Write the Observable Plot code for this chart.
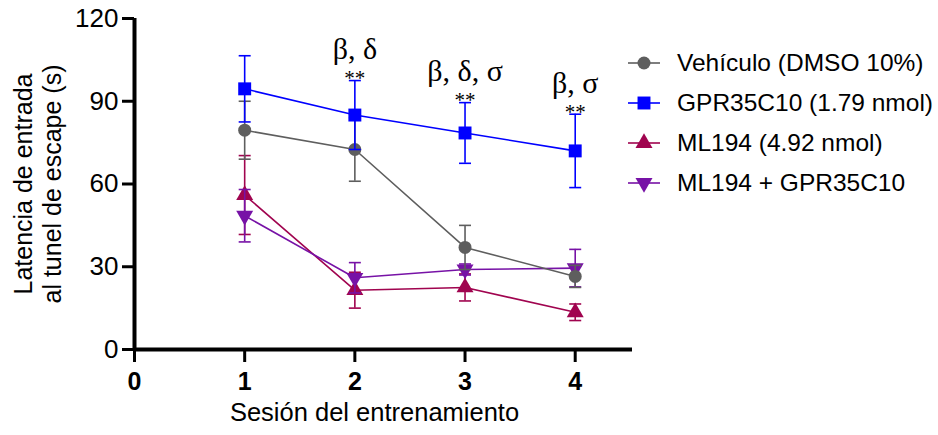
<!DOCTYPE html>
<html>
<head>
<meta charset="utf-8">
<script src="https://cdn.jsdelivr.net/npm/d3@7"></script>
<script src="https://cdn.jsdelivr.net/npm/@observablehq/plot@0.6"></script>
<style>
  html, body { margin: 0; padding: 0; background: #ffffff; }
  #wrap { position: relative; width: 938px; height: 435px; overflow: hidden; }
  #chart { position: absolute; left: 0; top: 0; }
  #legend { position: absolute; left: 626px; top: 43px; font-family: "Liberation Sans", Arial, sans-serif; font-size: 24.5px; color: #000; white-space: nowrap; }
  .row { display: flex; align-items: center; height: 40px; }
  .row svg { margin-right: 15px; }
</style>
</head>
<body>
<div id="wrap"><div id="chart"></div><div id="legend"></div></div>
<script>
// ---- data ----
const sessions = [1, 2, 3, 4];
const seriesNames = ["Vehículo (DMSO 10%)", "GPR35C10 (1.79 nmol)", "ML194 (4.92 nmol)", "ML194 + GPR35C10"];
const vehMean = [79.5, 72.5, 37, 26.5];
const vehSem = [10.5, 11.5, 8, 4];
const gprMean = [94.5, 85, 78.5, 72];
const gprSem = [12, 12.5, 11, 13.3];
const mlMean = [56, 21.5, 22.5, 13.5];
const mlSem = [14.3, 6.5, 4.9, 3];
const comboMean = [48.5, 26, 29, 29.5];
const comboSem = [9.5, 5.5, 2, 6.8];
const xTicks = [0, 1, 2, 3, 4];
const yTicks = [0, 30, 60, 90, 120];
const annSessions = [2, 3, 4];
const annGreek = ["β, δ", "β, δ, σ", "β, σ"];
const annStars = ["**", "**", "**"];

// ---- styles ----
const styles = [
  {color: "#5e5e5e", symbol: "circle", rotate: 0, r: 6.5},
  {color: "#0000ff", symbol: "square", rotate: 0, r: 7.3},
  {color: "#a0044f", symbol: "triangle", rotate: 0, r: 6.3},
  {color: "#7712a6", symbol: "triangle", rotate: 180, r: 6.3}
];
const means = [vehMean, gprMean, mlMean, comboMean];
const sems = [vehSem, gprSem, mlSem, comboSem];

const capSymbol = {
  draw(ctx, size) {
    const w = Math.sqrt(size / Math.PI);
    ctx.moveTo(-w, 0);
    ctx.lineTo(w, 0);
  }
};

const seriesData = seriesNames.map((name, i) =>
  sessions.map((s, j) => ({session: s, mean: means[i][j], sem: sems[i][j], name}))
);

const drawOrder = [2, 3, 0, 1];
const marks = [];
for (const i of drawOrder) {
  const d = seriesData[i], st = styles[i];
  marks.push(
    Plot.line(d, {x: "session", y: "mean", stroke: st.color, strokeWidth: 1.6}),
    Plot.ruleX(d, {x: "session", y1: v => v.mean - v.sem, y2: v => v.mean + v.sem, stroke: st.color, strokeWidth: 1.6}),
    Plot.dot(d, {x: "session", y: v => v.mean + v.sem, symbol: capSymbol, r: 6, fill: "none", stroke: st.color, strokeWidth: 1.6}),
    Plot.dot(d, {x: "session", y: v => v.mean - v.sem, symbol: capSymbol, r: 6, fill: "none", stroke: st.color, strokeWidth: 1.6}),
    Plot.dot(d, {x: "session", y: "mean", symbol: st.symbol, rotate: st.rotate, r: st.r, fill: st.color, stroke: "none"})
  );
}

const annData = annSessions.map((s, k) => ({
  session: s,
  top: gprMean[sessions.indexOf(s)] + gprSem[sessions.indexOf(s)],
  greek: annGreek[k],
  stars: annStars[k]
}));

const serif = "'Liberation Serif', 'Times New Roman', serif";

const plot = Plot.plot({
  width: 640,
  height: 435,
  marginLeft: 134,
  marginRight: 8,
  marginTop: 18,
  marginBottom: 86,
  x: {domain: [0, 4.52], axis: null},
  y: {domain: [0, 120], axis: null},
  style: {fontFamily: "'Liberation Sans', Arial, sans-serif", background: "transparent", color: "#000"},
  marks: [
    Plot.axisY({ticks: yTicks, tickSize: 12, tickPadding: 4, fontSize: 26, strokeWidth: 3, label: null}),
    Plot.axisX({ticks: xTicks, tickFormat: d => String(d), tickSize: 13, tickPadding: 10, fontSize: 25, fontWeight: "bold", strokeWidth: 3, label: null}),
    Plot.ruleY([0], {x1: 0, x2: 4.52, strokeWidth: 4, stroke: "#000"}),
    Plot.ruleX([0], {y1: 0, y2: 120, strokeWidth: 4, stroke: "#000"}),
    Plot.text(["Latencia de entrada\nal tunel de escape (s)"], {frameAnchor: "left", textAnchor: "middle", lineAnchor: "middle", rotate: -90, dx: -97, fontSize: 25, lineHeight: 1.16, fill: "#000"}),
    Plot.text(["Sesión del entrenamiento"], {frameAnchor: "bottom", textAnchor: "middle", lineAnchor: "middle", dx: -9, dy: 63, fontSize: 25.5, fill: "#000"}),
    ...marks,
    Plot.text(annData, {x: "session", y: "top", text: "stars", dy: -2, fontFamily: serif, fontSize: 21, letterSpacing: "1px", fill: "#000"}),
    Plot.text(annData, {x: "session", y: "top", text: "greek", dy: -31, fontFamily: serif, fontSize: 30, fill: "#000"})
  ]
});
document.getElementById("chart").appendChild(plot);

// ---- legend ----
const legend = d3.select("#legend");
seriesNames.forEach((name, i) => {
  const st = styles[i];
  const row = legend.append("div").attr("class", "row");
  const svg = row.append("svg").attr("width", 36).attr("height", 20);
  svg.append("line").attr("x1", 2).attr("x2", 34).attr("y1", 10).attr("y2", 10).attr("stroke", st.color).attr("stroke-width", 1.6);
  const symType = st.symbol === "circle" ? d3.symbolCircle : st.symbol === "square" ? d3.symbolSquare : d3.symbolTriangle;
  svg.append("path").attr("d", d3.symbol(symType, Math.PI * st.r * st.r)())
    .attr("transform", `translate(18,10) rotate(${st.rotate})`).attr("fill", st.color);
  row.append("span").text(name);
});
</script>
</body>
</html>
